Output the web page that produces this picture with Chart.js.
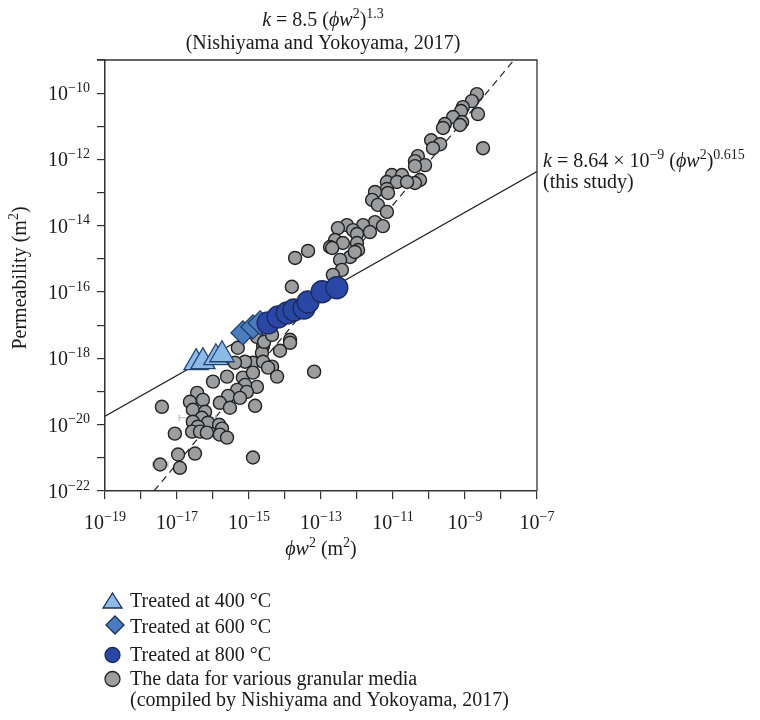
<!DOCTYPE html>
<html>
<head>
<meta charset="utf-8">
<script src="https://cdn.jsdelivr.net/npm/chart.js@4.4.0/dist/chart.umd.min.js"></script>
<style>
  body { margin: 0; background: #fff; }
  canvas { display: block; }
</style>
</head>
<body>
<canvas id="chart" width="760" height="720"></canvas>
<script>
// values are log10 of phi*w^2 (m2) and of permeability (m2)
const grayLogX = [-8.67,-8.81,-9.06,-9.11,-8.64,-9.33,-9.08,-9.14,-9.56,-9.61,-8.5,-9.94,-9.69,-9.89,-10.31,-10.39,-10.11,-10.39,-10.25,-10.39,
  -10.81,-11.03,-10.75,-11.17,-10.89,-10.61,-11.17,-11.5,-11.14,-11.58,-11.42,-11.17,-11.5,-11.28,-11.83,-12.28,-12.53,-12.11,-12.0,-11.64,
  -12.61,-12.39,-12.0,-12.75,-11.97,-12.19,-12.47,-12.69,-12.06,-12.42,-12.67,-13.36,-13.72,-13.81,-13.86,-13.86,-14.14,-14.61,-15.31,-14.64,
  -14.89,-15.11,-15.39,-14.61,-14.36,-14.47,-14.22,-15.61,-15.17,-14.89,-14.78,-15.11,-15.33,-15.06,-14.83,-15.58,-15.81,-15.53,-15.25,-16.0,
  -13.19,-16.44,-16.64,-16.28,-16.56,-16.22,-16.31,-16.56,-16.14,-16.42,-16.58,-16.36,-16.17,-15.83,-15.75,-15.81,-15.61,-17.42,-17.06,-16.97,
  -16.5,-16.92,-17.47,-14.89,-14.78,-14.58,-14.36];
const grayLogY = [-10.03,-10.24,-10.42,-10.54,-10.63,-10.72,-10.87,-10.96,-10.93,-11.05,-11.66,-11.42,-11.54,-11.66,-11.9,-12.05,-12.17,-12.2,-12.62,-12.71,
  -12.53,-12.47,-12.47,-12.68,-12.68,-12.68,-12.89,-12.98,-13.01,-13.22,-13.37,-13.58,-13.89,-14.01,-13.98,-13.98,-14.07,-14.13,-14.25,-14.19,
  -14.43,-14.52,-14.52,-14.64,-14.73,-14.94,-15.03,-14.67,-14.79,-15.33,-15.48,-14.76,-14.97,-15.84,-17.44,-17.53,-17.77,-17.62,-17.68,-17.83,
  -18.13,-18.1,-18.13,-18.1,-18.25,-18.28,-18.55,-18.55,-18.58,-18.43,-18.86,-18.8,-18.95,-19.01,-19.43,-19.13,-19.34,-19.49,-19.19,-18.7,
  -18.4,-19.04,-19.31,-19.25,-19.55,-19.61,-19.79,-19.91,-19.94,-20.06,-20.21,-20.21,-20.24,-20.0,-20.12,-20.3,-20.39,-19.46,-20.27,-20.9,
  -20.87,-21.3,-21.2,-20.99,-17.35,-17.5,-17.29];

const t400LogX = [-16.47, -16.28, -15.92, -15.75];
const t400LogY = [-18.13, -18.10, -17.98, -17.89];
const t600LogX = [-15.17, -14.89, -14.69];
const t600LogY = [-17.23, -17.05, -16.93];
const t800LogX = [-14.47, -14.19, -13.94, -13.75, -13.47, -13.36, -12.97, -12.56];
const t800LogY = [-16.93, -16.75, -16.63, -16.54, -16.48, -16.30, -15.99, -15.87];

// faint horizontal error bars on a few of the compiled points
const errLogY = [-19.79, -21.20, -18.40];
const errLogXMin = [-16.94, -17.67, -13.36];
const errLogXMax = [-15.92, -17.25, -13.05];

// fitted lines, end points
const nishiyamaX = [2.3e-18, 2.3e-8];
const nishiyamaY = [1e-22, 1e-9];
const thisStudyX = [1e-19, 1e-7];
const thisStudyY = [1.8e-20, 4.3e-13];

const xTicks = [-19,-18,-17,-16,-15,-14,-13,-12,-11,-10,-9,-8,-7];
const yTicks = [-22,-21,-20,-19,-18,-17,-16,-15,-14,-13,-12,-11,-10,-9];
const xLabelExp = [-19,-17,-15,-13,-11,-9,-7];
const yLabelExp = [-10,-12,-14,-16,-18,-20,-22];

const toPts = (xs, ys) => xs.map((v, i) => ({x: Math.pow(10, v), y: Math.pow(10, ys[i])}));

const errData = [];
errLogY.forEach((v, i) => {
  errData.push({x: Math.pow(10, errLogXMin[i]), y: Math.pow(10, v)});
  errData.push({x: Math.pow(10, errLogXMax[i]), y: Math.pow(10, v)});
  errData.push({x: Math.pow(10, errLogXMax[i]), y: null});
});

const FONT = '"Liberation Serif", "Times New Roman", serif';

// draw a run of text pieces: [text, style] with style containing i (italic) / s (superscript)
function rich(ctx, parts, x, y, align, size) {
  size = size || 20;
  const sup = Math.round(size * 0.68);
  const fontOf = s => (s.indexOf('i') >= 0 ? 'italic ' : '') + (s.indexOf('s') >= 0 ? sup : size) + 'px ' + FONT;
  let w = 0;
  parts.forEach(p => { ctx.font = fontOf(p[1]); w += ctx.measureText(p[0]).width; });
  let cx = align === 'center' ? x - w / 2 : (align === 'right' ? x - w : x);
  ctx.textAlign = 'left';
  ctx.textBaseline = 'alphabetic';
  parts.forEach(p => {
    ctx.font = fontOf(p[1]);
    ctx.fillText(p[0], cx, p[1].indexOf('s') >= 0 ? y - size * 0.42 : y);
    cx += ctx.measureText(p[0]).width;
  });
}

const textPlugin = {
  id: 'texts',
  afterDraw(chart) {
    const ctx = chart.ctx;
    const xs = chart.scales.x, ys = chart.scales.y, a = chart.chartArea;
    ctx.save();
    // frame top / right
    ctx.strokeStyle = '#333';
    ctx.lineWidth = 1.3;
    ctx.beginPath();
    ctx.moveTo(a.left - 8, a.top);
    ctx.lineTo(a.right, a.top);
    ctx.lineTo(a.right, a.bottom);
    ctx.stroke();

    ctx.fillStyle = '#1a1a1a';
    xLabelExp.forEach(e => {
      const px = xs.getPixelForValue(Math.pow(10, e));
      rich(ctx, [['10', ''], ['\u2212' + Math.abs(e), 's']], px, 529, 'center');
    });
    yLabelExp.forEach(e => {
      const py = ys.getPixelForValue(Math.pow(10, e));
      rich(ctx, [['10', ''], ['\u2212' + Math.abs(e), 's']], 90, py + 7, 'right');
    });

    rich(ctx, [['\u03d5w', 'i'], ['2', 's'], [' (m', ''], ['2', 's'], [')', '']], (a.left + a.right) / 2, 555, 'center');

    ctx.save();
    ctx.translate(26, 278);
    ctx.rotate(-Math.PI / 2);
    rich(ctx, [['Permeability (m', ''], ['2', 's'], [')', '']], 0, 0, 'center');
    ctx.restore();

    rich(ctx, [['k', 'i'], [' = 8.5 (', ''], ['\u03d5w', 'i'], ['2', 's'], [')', ''], ['1.3', 's']], 323, 26, 'center');
    rich(ctx, [['(Nishiyama and Yokoyama, 2017)', '']], 323, 49, 'center');

    rich(ctx, [['k', 'i'], [' = 8.64 \u00d7 10', ''], ['\u22129', 's'], [' (', ''], ['\u03d5w', 'i'], ['2', 's'], [')', ''], ['0.615', 's']], 543, 167, 'left');
    rich(ctx, [['(this study)', '']], 543, 188, 'left');

    // legend
    ctx.lineWidth = 1.3;
    ctx.strokeStyle = '#1e2f4f';
    ctx.fillStyle = '#8cb9e6';
    ctx.beginPath();
    ctx.moveTo(112.5, 593); ctx.lineTo(122, 608); ctx.lineTo(103, 608); ctx.closePath();
    ctx.fill(); ctx.stroke();
    ctx.fillStyle = '#4a7cc0';
    ctx.beginPath();
    ctx.moveTo(115, 616); ctx.lineTo(124, 625); ctx.lineTo(115, 634); ctx.lineTo(106, 625); ctx.closePath();
    ctx.fill(); ctx.stroke();
    ctx.fillStyle = '#2a47a6';
    ctx.beginPath(); ctx.arc(112.5, 655, 7.5, 0, Math.PI * 2); ctx.fill(); ctx.stroke();
    ctx.strokeStyle = '#222';
    ctx.fillStyle = '#9c9d9f';
    ctx.beginPath(); ctx.arc(112.5, 679, 7.5, 0, Math.PI * 2); ctx.fill(); ctx.stroke();

    ctx.fillStyle = '#1a1a1a';
    rich(ctx, [['Treated at 400 \u00b0C', '']], 130, 607, 'left');
    rich(ctx, [['Treated at 600 \u00b0C', '']], 130, 633, 'left');
    rich(ctx, [['Treated at 800 \u00b0C', '']], 130, 661, 'left');
    rich(ctx, [['The data for various granular media', '']], 130, 685, 'left');
    rich(ctx, [['(compiled by Nishiyama and Yokoyama, 2017)', '']], 130, 706, 'left');
    ctx.restore();
  }
};

new Chart(document.getElementById('chart'), {
  type: 'scatter',
  data: {
    datasets: [
      {
        label: 'Treated at 800 °C',
        data: toPts(t800LogX, t800LogY),
        pointStyle: 'circle', pointRadius: 11,
        backgroundColor: '#2a47a6', borderColor: '#1b2b5e', borderWidth: 1.3
      },
      {
        label: 'Treated at 600 °C',
        data: toPts(t600LogX, t600LogY),
        pointStyle: 'rectRot', pointRadius: 12,
        backgroundColor: '#4a7cc0', borderColor: '#1f3a66', borderWidth: 1.3
      },
      {
        label: 'Treated at 400 °C',
        data: toPts(t400LogX, t400LogY),
        pointStyle: 'triangle', pointRadius: 14,
        backgroundColor: '#8cb9e6', borderColor: '#25446e', borderWidth: 1.3
      },
      {
        label: 'The data for various granular media',
        data: toPts(grayLogX, grayLogY),
        pointStyle: 'circle', pointRadius: 6.5,
        backgroundColor: '#9c9d9f', borderColor: '#222', borderWidth: 1.4
      },
      {
        label: 'error',
        type: 'line',
        data: errData,
        showLine: true, spanGaps: false,
        borderColor: '#b8b8b8', borderWidth: 1.2,
        pointStyle: 'line', pointRotation: 90, pointRadius: 3,
        pointBorderColor: '#b8b8b8', pointBorderWidth: 1.2
      },
      {
        label: 'k = 8.5 (phi w2)^1.3',
        type: 'line',
        data: toPts(nishiyamaX.map(Math.log10), nishiyamaY.map(Math.log10)),
        borderColor: '#222', borderWidth: 1.2, borderDash: [7, 5],
        pointRadius: 0
      },
      {
        label: 'k = 8.64e-9 (phi w2)^0.615',
        type: 'line',
        data: toPts(thisStudyX.map(Math.log10), thisStudyY.map(Math.log10)),
        borderColor: '#222', borderWidth: 1.3,
        pointRadius: 0
      }
    ]
  },
  options: {
    responsive: false,
    animation: false,
    devicePixelRatio: 1,
    layout: { padding: { left: 97, right: 223, top: 60, bottom: 221 } },
    plugins: {
      legend: { display: false },
      tooltip: { enabled: false }
    },
    scales: {
      x: {
        type: 'logarithmic',
        min: 1e-19, max: 1e-7,
        afterBuildTicks: s => { s.ticks = xTicks.map(e => ({value: Math.pow(10, e)})); },
        ticks: { display: false },
        grid: { drawOnChartArea: false, drawTicks: true, tickLength: 8, color: '#333', lineWidth: 1.2 },
        border: { display: true, color: '#333', width: 1.5 }
      },
      y: {
        type: 'logarithmic',
        min: 1e-22, max: 1e-9,
        afterBuildTicks: s => { s.ticks = yTicks.map(e => ({value: Math.pow(10, e)})); },
        ticks: { display: false },
        grid: { drawOnChartArea: false, drawTicks: true, tickLength: 8, color: '#333', lineWidth: 1.2 },
        border: { display: true, color: '#333', width: 1.5 }
      }
    }
  },
  plugins: [textPlugin]
});
</script>
</body>
</html>
